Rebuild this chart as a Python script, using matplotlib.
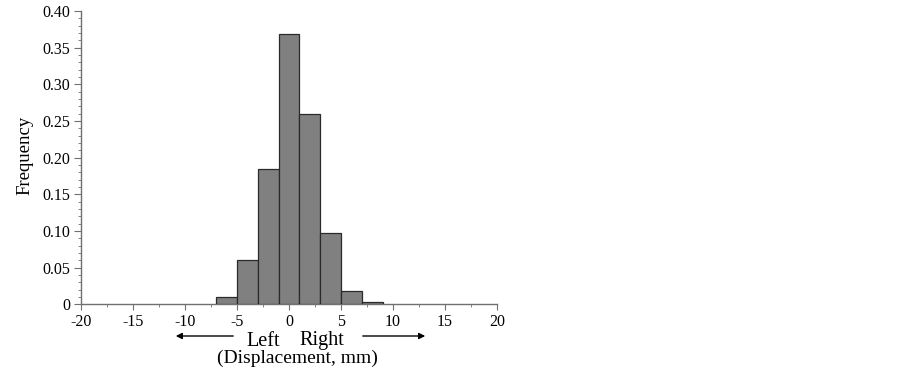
import matplotlib
matplotlib.use("Agg")
import matplotlib.pyplot as plt
from matplotlib.ticker import MultipleLocator

plt.rcParams['font.family'] = ['Liberation Serif', 'DejaVu Serif']

bin_left = [-7, -5, -3, -1, 1, 3, 5, 7]
freq = [0.010, 0.060, 0.185, 0.368, 0.259, 0.097, 0.018, 0.003]
xticks = [-20, -15, -10, -5, 0, 5, 10, 15, 20]
yticks = [0, 0.05, 0.10, 0.15, 0.20, 0.25, 0.30, 0.35, 0.40]
ytick_labels = ['0', '0.05', '0.10', '0.15', '0.20', '0.25', '0.30', '0.35', '0.40']

W, H = 903, 374
fig = plt.figure(figsize=(W / 100, H / 100), dpi=100)
ax = fig.add_axes([81 / W, 1 - 304.3 / H, (497 - 81) / W, (304.3 - 11) / H])
ax.bar(bin_left, freq, width=2, align='edge', color='#808080',
       edgecolor='#2a2a2a', linewidth=0.9, zorder=3)
ax.set_xlim(-20, 20)
ax.set_ylim(0, 0.40)
ax.set_xticks(xticks)
ax.set_xticklabels([str(t) for t in xticks], fontsize=11.5)
ax.set_yticks(yticks)
ax.set_yticklabels(ytick_labels, fontsize=11.5)
ax.xaxis.set_minor_locator(MultipleLocator(2.5))
ax.yaxis.set_minor_locator(MultipleLocator(0.01))
for s in ['top', 'right']:
    ax.spines[s].set_visible(False)
for s in ['left', 'bottom']:
    ax.spines[s].set_color('#707070')
    ax.spines[s].set_linewidth(1.0)
ax.tick_params(axis='y', which='major', length=5, width=0.8, color='#707070', pad=3)
ax.tick_params(axis='x', which='major', length=4, width=0.8, color='#707070', pad=3)
ax.tick_params(axis='both', which='minor', length=2, width=0.6, color='#707070')

fig.text(25 / W, 1 - 155 / H, 'Frequency', rotation=90, ha='center', va='center', fontsize=13.5)
fig.text(263 / W, 1 - 345.5 / H, 'Left', ha='center', va='baseline', fontsize=14.5)
fig.text(322 / W, 1 - 345.5 / H, 'Right', ha='center', va='baseline', fontsize=14.5)
fig.text(297 / W, 1 - 362.5 / H, '(Displacement, mm)', ha='center', va='baseline', fontsize=14)
ax.annotate('', xy=(173 / W, 1 - 336 / H), xytext=(236 / W, 1 - 336 / H),
            xycoords='figure fraction', textcoords='figure fraction',
            arrowprops=dict(arrowstyle='-|>', color='black', lw=1.0, mutation_scale=9))
ax.annotate('', xy=(428 / W, 1 - 336 / H), xytext=(360 / W, 1 - 336 / H),
            xycoords='figure fraction', textcoords='figure fraction',
            arrowprops=dict(arrowstyle='-|>', color='black', lw=1.0, mutation_scale=9))

fig.savefig('out.png', dpi=100)
